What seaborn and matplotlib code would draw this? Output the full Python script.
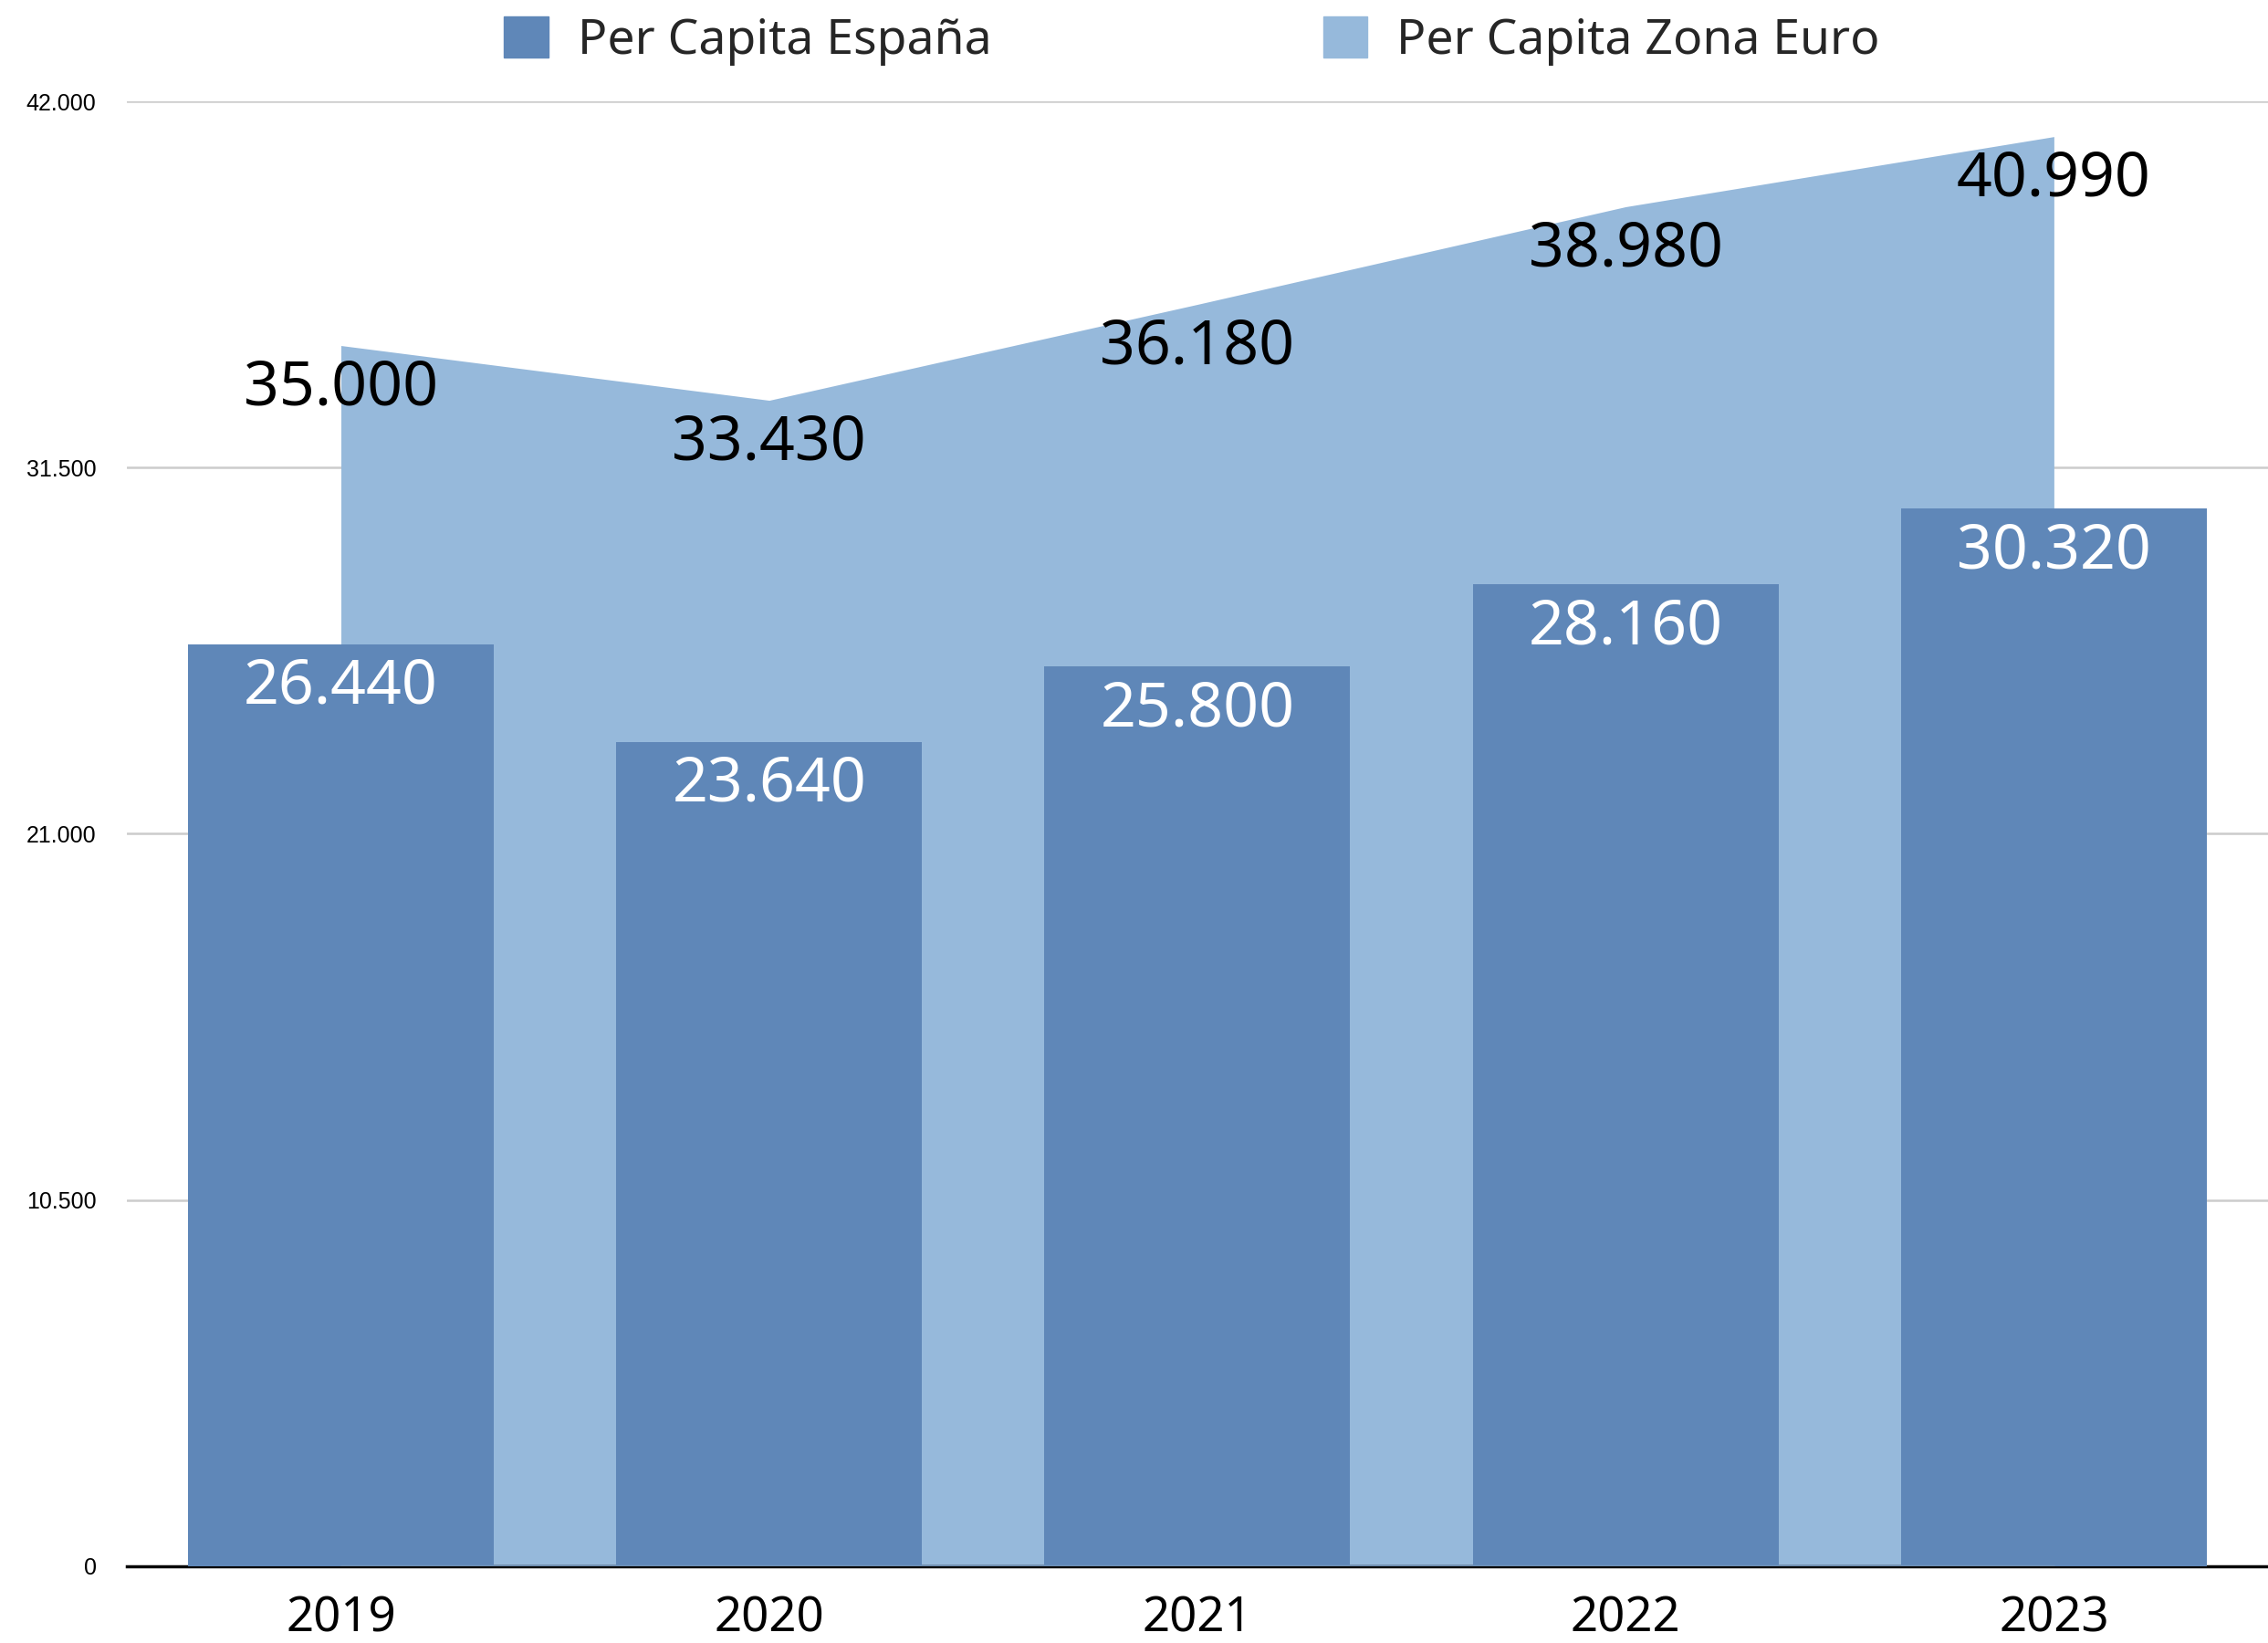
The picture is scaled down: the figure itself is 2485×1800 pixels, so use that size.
import matplotlib
matplotlib.use("Agg")
import matplotlib.pyplot as plt
import matplotlib.ticker as mticker
from matplotlib.patches import Patch
import seaborn as sns
import pandas as pd

years = ["2019", "2020", "2021", "2022", "2023"]
espana = [26440, 23640, 25800, 28160, 30320]
zona_euro = [35000, 33430, 36180, 38980, 40990]
yticks = [0, 10500, 21000, 31500, 42000]

bar_color = "#5F87B8"
area_color = "#96B9DB"

sns.set_theme(style="white")
plt.rcParams["font.family"] = ["Noto Sans", "DejaVu Sans"]

def fmt(v):
    return f"{v:,.0f}".replace(",", ".")

df = pd.DataFrame({"year": years, "espana": espana, "euro": zona_euro})

fig = plt.figure(figsize=(24.85, 18), dpi=100)
ax = fig.add_axes([0.0559, 0.0467, 1 - 0.0559, 0.9383 - 0.0467])

# gridlines
for t in yticks[1:]:
    ax.axhline(t, color="#CCCCCC", lw=1.8, zorder=0)

# area series
xpos = list(range(len(years)))
ax.fill_between(xpos, 0, df["euro"], color=area_color, lw=0, zorder=1)
ax.plot([xpos[0], xpos[-1]], [0, 0], color="#6F90B6", lw=2.5, zorder=4)

# bars
sns.barplot(data=df, x="year", y="espana", color=bar_color, width=0.714,
            saturation=1, ax=ax, zorder=3, linewidth=0, edgecolor=bar_color)

ax.set_xlim(-0.5, 4.5)
ax.set_ylim(0, 42000)
ax.set_yticks(yticks)
ax.yaxis.set_major_formatter(mticker.FuncFormatter(lambda v, p: fmt(v)))
for lab in ax.get_yticklabels():
    lab.set_fontfamily("Liberation Sans")
    lab.set_fontsize(18)
ax.tick_params(axis="y", length=0, pad=24, colors="black")
ax.tick_params(axis="x", length=0, pad=23, labelsize=38, colors="black")
ax.set_xlabel("")
ax.set_ylabel("")

for s in ["top", "right", "left"]:
    ax.spines[s].set_visible(False)
ax.spines["bottom"].set_color("black")
ax.spines["bottom"].set_linewidth(2.5)
ax.spines["bottom"].set_zorder(2)

# labels
for i, v in enumerate(zona_euro):
    ax.annotate(fmt(v), (i, v), xytext=(0, -34), textcoords="offset points",
                ha="center", va="center", fontsize=49, color="black", zorder=5)
for i, v in enumerate(espana):
    ax.annotate(fmt(v), (i, v), xytext=(0, -34), textcoords="offset points",
                ha="center", va="center", fontsize=49, color="white", zorder=5)

handles = [Patch(color=bar_color, label="Per Capita España"),
           Patch(color=area_color, label="Per Capita Zona Euro")]
fig.legend(handles=handles, loc="center", bbox_to_anchor=(0.5256, 0.975),
           ncol=2, frameon=False, fontsize=38.5, handlelength=0.9,
           handleheight=0.9, handletextpad=0.6, columnspacing=6.8)

fig.savefig("out.png", dpi=100)
